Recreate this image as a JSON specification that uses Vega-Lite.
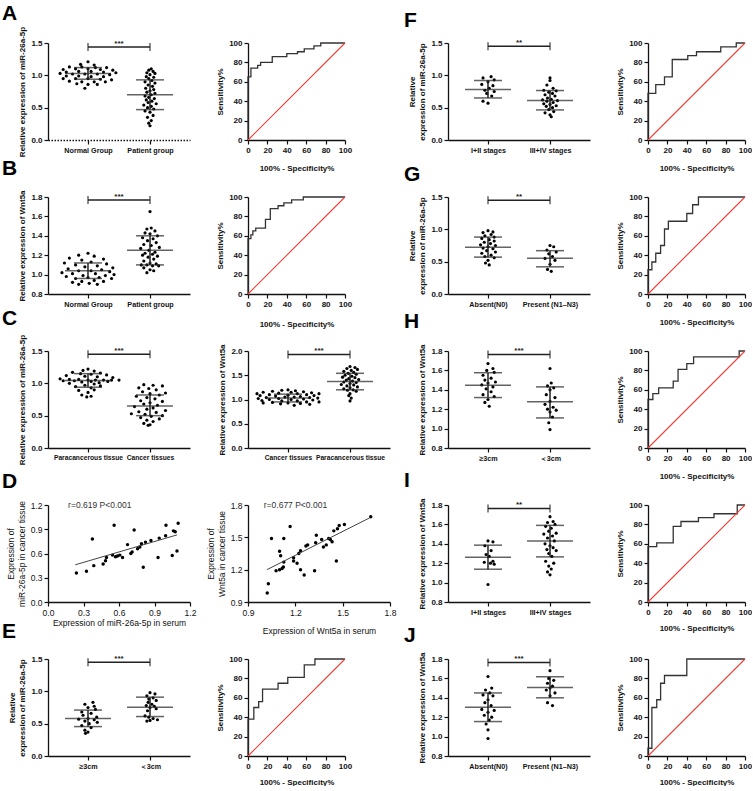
{
"$schema":"https://vega.github.io/schema/vega-lite/v6.json",
"background":"white",
"padding":{"left":2,"top":3,"right":0,"bottom":0},
"columns":4,"bounds":"flush","spacing":{"row":57,"column":58},
"datasets":{
"pts":[
{"p":"A","x":0,"y":1.21},{"p":"A","x":-0.12,"y":1.17},{"p":"A","x":0.1,"y":1.16},{"p":"A","x":-0.3,"y":1.13},{"p":"A","x":-0.1,"y":1.13},{"p":"A","x":0.12,"y":1.12},{"p":"A","x":0.3,"y":1.12},{"p":"A","x":-0.4,"y":1.09},{"p":"A","x":-0.2,"y":1.1},{"p":"A","x":0,"y":1.1},{"p":"A","x":0.2,"y":1.09},{"p":"A","x":0.4,"y":1.08},{"p":"A","x":-0.35,"y":1.05},{"p":"A","x":-0.15,"y":1.06},{"p":"A","x":0.05,"y":1.06},{"p":"A","x":0.25,"y":1.05},{"p":"A","x":0.45,"y":1.04},{"p":"A","x":-0.45,"y":1.03},{"p":"A","x":-0.25,"y":1.02},{"p":"A","x":-0.05,"y":1.02},{"p":"A","x":0.15,"y":1.02},{"p":"A","x":0.35,"y":1.01},{"p":"A","x":-0.35,"y":0.99},{"p":"A","x":-0.15,"y":0.99},{"p":"A","x":0.05,"y":0.98},{"p":"A","x":0.25,"y":0.98},{"p":"A","x":-0.4,"y":0.95},{"p":"A","x":-0.2,"y":0.95},{"p":"A","x":0,"y":0.95},{"p":"A","x":0.2,"y":0.94},{"p":"A","x":0.38,"y":0.93},{"p":"A","x":-0.3,"y":0.91},{"p":"A","x":-0.1,"y":0.9},{"p":"A","x":0.1,"y":0.9},{"p":"A","x":0.28,"y":0.9},{"p":"A","x":-0.18,"y":0.87},{"p":"A","x":0,"y":0.86},{"p":"A","x":0.15,"y":0.86},{"p":"A","x":-0.05,"y":0.8},
{"p":"A","x":1.02,"y":1.1},{"p":"A","x":0.98,"y":1.08},{"p":"A","x":1.05,"y":1.06},{"p":"A","x":0.95,"y":1.04},{"p":"A","x":1.08,"y":1.03},{"p":"A","x":1.0,"y":1.01},{"p":"A","x":0.94,"y":0.98},{"p":"A","x":1.06,"y":0.97},{"p":"A","x":0.98,"y":0.95},{"p":"A","x":1.03,"y":0.92},{"p":"A","x":0.92,"y":0.9},{"p":"A","x":1.08,"y":0.88},{"p":"A","x":0.97,"y":0.85},{"p":"A","x":1.04,"y":0.83},{"p":"A","x":0.93,"y":0.8},{"p":"A","x":1.06,"y":0.78},{"p":"A","x":1.0,"y":0.76},{"p":"A","x":0.95,"y":0.74},{"p":"A","x":1.08,"y":0.72},{"p":"A","x":1.02,"y":0.7},{"p":"A","x":0.92,"y":0.68},{"p":"A","x":0.98,"y":0.66},{"p":"A","x":1.07,"y":0.64},{"p":"A","x":0.94,"y":0.62},{"p":"A","x":1.03,"y":0.6},{"p":"A","x":0.97,"y":0.58},{"p":"A","x":1.1,"y":0.56},{"p":"A","x":0.9,"y":0.54},{"p":"A","x":1.02,"y":0.52},{"p":"A","x":0.96,"y":0.5},{"p":"A","x":1.06,"y":0.48},{"p":"A","x":0.92,"y":0.45},{"p":"A","x":1.0,"y":0.43},{"p":"A","x":1.05,"y":0.38},{"p":"A","x":0.96,"y":0.35},{"p":"A","x":1.02,"y":0.3},{"p":"A","x":0.98,"y":0.26},{"p":"A","x":1.0,"y":0.22},
{"p":"B","x":0,"y":1.22},{"p":"B","x":-0.15,"y":1.2},{"p":"B","x":0.1,"y":1.19},{"p":"B","x":-0.3,"y":1.17},{"p":"B","x":0.25,"y":1.16},{"p":"B","x":-0.1,"y":1.15},{"p":"B","x":0.05,"y":1.13},{"p":"B","x":-0.38,"y":1.12},{"p":"B","x":0.3,"y":1.11},{"p":"B","x":-0.2,"y":1.1},{"p":"B","x":0.15,"y":1.09},{"p":"B","x":-0.05,"y":1.08},{"p":"B","x":0.4,"y":1.07},{"p":"B","x":-0.32,"y":1.06},{"p":"B","x":0.22,"y":1.05},{"p":"B","x":-0.15,"y":1.04},{"p":"B","x":0.05,"y":1.04},{"p":"B","x":0.35,"y":1.03},{"p":"B","x":-0.42,"y":1.02},{"p":"B","x":-0.25,"y":1.01},{"p":"B","x":0.12,"y":1.01},{"p":"B","x":0.42,"y":1.0},{"p":"B","x":-0.08,"y":0.99},{"p":"B","x":0.28,"y":0.99},{"p":"B","x":-0.35,"y":0.98},{"p":"B","x":0,"y":0.97},{"p":"B","x":0.18,"y":0.97},{"p":"B","x":-0.2,"y":0.96},{"p":"B","x":0.38,"y":0.96},{"p":"B","x":0.1,"y":0.94},{"p":"B","x":-0.1,"y":0.93},{"p":"B","x":-0.25,"y":0.92},{"p":"B","x":0.25,"y":0.93},{"p":"B","x":0.02,"y":0.91},{"p":"B","x":-0.15,"y":0.9},{"p":"B","x":0.15,"y":0.9},
{"p":"B","x":1.0,"y":1.65},{"p":"B","x":1.02,"y":1.48},{"p":"B","x":0.95,"y":1.47},{"p":"B","x":1.08,"y":1.45},{"p":"B","x":0.92,"y":1.43},{"p":"B","x":1.0,"y":1.42},{"p":"B","x":1.12,"y":1.4},{"p":"B","x":0.88,"y":1.38},{"p":"B","x":1.05,"y":1.37},{"p":"B","x":0.96,"y":1.35},{"p":"B","x":1.1,"y":1.33},{"p":"B","x":0.9,"y":1.31},{"p":"B","x":1.02,"y":1.3},{"p":"B","x":1.15,"y":1.28},{"p":"B","x":0.85,"y":1.27},{"p":"B","x":0.98,"y":1.25},{"p":"B","x":1.08,"y":1.23},{"p":"B","x":0.92,"y":1.22},{"p":"B","x":1.04,"y":1.21},{"p":"B","x":0.88,"y":1.2},{"p":"B","x":1.12,"y":1.19},{"p":"B","x":0.97,"y":1.18},{"p":"B","x":1.06,"y":1.16},{"p":"B","x":0.9,"y":1.14},{"p":"B","x":1.0,"y":1.12},{"p":"B","x":1.1,"y":1.11},{"p":"B","x":0.86,"y":1.1},{"p":"B","x":0.95,"y":1.1},{"p":"B","x":1.04,"y":1.09},{"p":"B","x":1.14,"y":1.09},{"p":"B","x":0.9,"y":1.07},{"p":"B","x":1.0,"y":1.05},{"p":"B","x":1.06,"y":1.04},{"p":"B","x":0.95,"y":1.02},
{"p":"C1","x":0,"y":1.22},{"p":"C1","x":-0.08,"y":1.2},{"p":"C1","x":0.1,"y":1.19},{"p":"C1","x":-0.25,"y":1.17},{"p":"C1","x":0.2,"y":1.16},{"p":"C1","x":-0.12,"y":1.15},{"p":"C1","x":0.05,"y":1.14},{"p":"C1","x":0.3,"y":1.13},{"p":"C1","x":-0.35,"y":1.12},{"p":"C1","x":-0.05,"y":1.11},{"p":"C1","x":0.15,"y":1.1},{"p":"C1","x":0.4,"y":1.09},{"p":"C1","x":-0.45,"y":1.07},{"p":"C1","x":-0.3,"y":1.06},{"p":"C1","x":-0.15,"y":1.06},{"p":"C1","x":0,"y":1.05},{"p":"C1","x":0.12,"y":1.05},{"p":"C1","x":0.25,"y":1.05},{"p":"C1","x":0.38,"y":1.05},{"p":"C1","x":0.5,"y":1.05},{"p":"C1","x":-0.4,"y":1.04},{"p":"C1","x":-0.22,"y":1.04},{"p":"C1","x":0.05,"y":1.03},{"p":"C1","x":0.32,"y":1.03},{"p":"C1","x":-0.1,"y":1.02},{"p":"C1","x":0.18,"y":1.01},{"p":"C1","x":-0.3,"y":1.0},{"p":"C1","x":0.1,"y":0.99},{"p":"C1","x":-0.05,"y":0.97},{"p":"C1","x":0.2,"y":0.96},{"p":"C1","x":-0.2,"y":0.95},{"p":"C1","x":0.05,"y":0.93},{"p":"C1","x":0.1,"y":0.9},{"p":"C1","x":-0.15,"y":0.89},{"p":"C1","x":0,"y":0.86},{"p":"C1","x":-0.1,"y":0.82},{"p":"C1","x":0.05,"y":0.8},{"p":"C1","x":-0.02,"y":0.79},
{"p":"C1","x":0.9,"y":0.98},{"p":"C1","x":1.05,"y":0.97},{"p":"C1","x":1.2,"y":0.96},{"p":"C1","x":0.82,"y":0.93},{"p":"C1","x":0.98,"y":0.92},{"p":"C1","x":1.1,"y":0.9},{"p":"C1","x":0.88,"y":0.87},{"p":"C1","x":1.25,"y":0.85},{"p":"C1","x":1.0,"y":0.84},{"p":"C1","x":1.15,"y":0.82},{"p":"C1","x":0.78,"y":0.8},{"p":"C1","x":0.95,"y":0.78},{"p":"C1","x":1.08,"y":0.76},{"p":"C1","x":0.85,"y":0.73},{"p":"C1","x":1.2,"y":0.72},{"p":"C1","x":1.0,"y":0.7},{"p":"C1","x":0.9,"y":0.68},{"p":"C1","x":1.12,"y":0.66},{"p":"C1","x":0.75,"y":0.64},{"p":"C1","x":1.05,"y":0.62},{"p":"C1","x":0.95,"y":0.6},{"p":"C1","x":1.25,"y":0.58},{"p":"C1","x":0.82,"y":0.56},{"p":"C1","x":1.1,"y":0.55},{"p":"C1","x":0.7,"y":0.53},{"p":"C1","x":0.92,"y":0.52},{"p":"C1","x":1.2,"y":0.5},{"p":"C1","x":1.02,"y":0.49},{"p":"C1","x":0.85,"y":0.47},{"p":"C1","x":1.15,"y":0.45},{"p":"C1","x":0.95,"y":0.43},{"p":"C1","x":1.05,"y":0.41},{"p":"C1","x":0.9,"y":0.38},{"p":"C1","x":1.0,"y":0.36},{"p":"C1","x":0.97,"y":0.35},
{"p":"C2","x":0,"y":1.2},{"p":"C2","x":-0.1,"y":1.19},{"p":"C2","x":0.12,"y":1.18},{"p":"C2","x":-0.25,"y":1.17},{"p":"C2","x":0.25,"y":1.16},{"p":"C2","x":-0.4,"y":1.15},{"p":"C2","x":0.05,"y":1.15},{"p":"C2","x":0.38,"y":1.14},{"p":"C2","x":-0.15,"y":1.13},{"p":"C2","x":0.15,"y":1.12},{"p":"C2","x":-0.5,"y":1.12},{"p":"C2","x":0.5,"y":1.12},{"p":"C2","x":-0.3,"y":1.1},{"p":"C2","x":0.3,"y":1.1},{"p":"C2","x":0,"y":1.09},{"p":"C2","x":-0.45,"y":1.08},{"p":"C2","x":0.42,"y":1.08},{"p":"C2","x":-0.2,"y":1.07},{"p":"C2","x":0.2,"y":1.06},{"p":"C2","x":-0.05,"y":1.05},{"p":"C2","x":0.1,"y":1.05},{"p":"C2","x":-0.35,"y":1.04},{"p":"C2","x":0.35,"y":1.04},{"p":"C2","x":0.48,"y":1.03},{"p":"C2","x":-0.48,"y":1.02},{"p":"C2","x":-0.15,"y":1.02},{"p":"C2","x":0.25,"y":1.01},{"p":"C2","x":-0.3,"y":1.0},{"p":"C2","x":0.05,"y":1.0},{"p":"C2","x":0.4,"y":0.99},{"p":"C2","x":-0.42,"y":0.98},{"p":"C2","x":-0.1,"y":0.97},{"p":"C2","x":0.15,"y":0.97},{"p":"C2","x":0.3,"y":0.95},{"p":"C2","x":-0.25,"y":0.94},{"p":"C2","x":0,"y":0.93},{"p":"C2","x":0.5,"y":0.95},{"p":"C2","x":-0.4,"y":0.93},{"p":"C2","x":0.2,"y":0.92},{"p":"C2","x":-0.12,"y":0.91},{"p":"C2","x":0.35,"y":0.9},{"p":"C2","x":0.1,"y":0.88},
{"p":"C2","x":1.0,"y":1.68},{"p":"C2","x":1.08,"y":1.66},{"p":"C2","x":0.95,"y":1.64},{"p":"C2","x":1.12,"y":1.62},{"p":"C2","x":1.02,"y":1.6},{"p":"C2","x":0.9,"y":1.58},{"p":"C2","x":1.06,"y":1.56},{"p":"C2","x":0.97,"y":1.54},{"p":"C2","x":1.1,"y":1.52},{"p":"C2","x":0.92,"y":1.5},{"p":"C2","x":1.03,"y":1.48},{"p":"C2","x":0.88,"y":1.46},{"p":"C2","x":1.08,"y":1.45},{"p":"C2","x":0.98,"y":1.43},{"p":"C2","x":1.14,"y":1.41},{"p":"C2","x":0.94,"y":1.4},{"p":"C2","x":1.04,"y":1.38},{"p":"C2","x":0.9,"y":1.36},{"p":"C2","x":1.1,"y":1.35},{"p":"C2","x":1.0,"y":1.33},{"p":"C2","x":0.86,"y":1.31},{"p":"C2","x":1.06,"y":1.3},{"p":"C2","x":0.95,"y":1.28},{"p":"C2","x":1.12,"y":1.26},{"p":"C2","x":1.0,"y":1.24},{"p":"C2","x":0.9,"y":1.22},{"p":"C2","x":1.05,"y":1.2},{"p":"C2","x":0.96,"y":1.19},{"p":"C2","x":1.1,"y":1.17},{"p":"C2","x":1.0,"y":1.12},{"p":"C2","x":0.98,"y":1.08},{"p":"C2","x":1.02,"y":1.03},{"p":"C2","x":1.0,"y":0.97},
{"p":"E","x":0.08,"y":0.83},{"p":"E","x":-0.05,"y":0.8},{"p":"E","x":0.1,"y":0.77},{"p":"E","x":0,"y":0.75},{"p":"E","x":0.12,"y":0.72},{"p":"E","x":-0.1,"y":0.68},{"p":"E","x":0.05,"y":0.66},{"p":"E","x":-0.08,"y":0.63},{"p":"E","x":0.14,"y":0.6},{"p":"E","x":0,"y":0.58},{"p":"E","x":-0.15,"y":0.57},{"p":"E","x":0.1,"y":0.56},{"p":"E","x":-0.05,"y":0.54},{"p":"E","x":0.15,"y":0.52},{"p":"E","x":0.02,"y":0.5},{"p":"E","x":-0.1,"y":0.47},{"p":"E","x":0.05,"y":0.44},{"p":"E","x":-0.05,"y":0.4},{"p":"E","x":0,"y":0.37},{"p":"E","x":-0.04,"y":0.35},
{"p":"E","x":1.0,"y":0.98},{"p":"E","x":1.08,"y":0.96},{"p":"E","x":0.95,"y":0.93},{"p":"E","x":1.05,"y":0.9},{"p":"E","x":0.98,"y":0.88},{"p":"E","x":1.1,"y":0.86},{"p":"E","x":0.97,"y":0.83},{"p":"E","x":1.03,"y":0.8},{"p":"E","x":0.94,"y":0.78},{"p":"E","x":1.07,"y":0.77},{"p":"E","x":1.0,"y":0.75},{"p":"E","x":1.1,"y":0.73},{"p":"E","x":0.96,"y":0.7},{"p":"E","x":0.92,"y":0.62},{"p":"E","x":0.98,"y":0.6},{"p":"E","x":1.05,"y":0.58},{"p":"E","x":1.12,"y":0.56},{"p":"E","x":1.0,"y":0.55},{"p":"E","x":0.95,"y":0.54},
{"p":"F","x":0.05,"y":0.98},{"p":"F","x":-0.08,"y":0.96},{"p":"F","x":0.1,"y":0.93},{"p":"F","x":0,"y":0.9},{"p":"F","x":-0.1,"y":0.86},{"p":"F","x":0.08,"y":0.84},{"p":"F","x":0.02,"y":0.8},{"p":"F","x":-0.05,"y":0.77},{"p":"F","x":0.1,"y":0.75},{"p":"F","x":-0.02,"y":0.72},{"p":"F","x":0.06,"y":0.68},{"p":"F","x":-0.08,"y":0.6},{"p":"F","x":0,"y":0.57},
{"p":"F","x":1.0,"y":0.96},{"p":"F","x":1.0,"y":0.92},{"p":"F","x":0.95,"y":0.85},{"p":"F","x":1.05,"y":0.8},{"p":"F","x":0.9,"y":0.77},{"p":"F","x":1.1,"y":0.76},{"p":"F","x":0.98,"y":0.74},{"p":"F","x":1.04,"y":0.72},{"p":"F","x":0.92,"y":0.7},{"p":"F","x":1.08,"y":0.68},{"p":"F","x":0.96,"y":0.65},{"p":"F","x":1.02,"y":0.63},{"p":"F","x":0.88,"y":0.62},{"p":"F","x":1.12,"y":0.61},{"p":"F","x":0.95,"y":0.6},{"p":"F","x":1.05,"y":0.58},{"p":"F","x":0.9,"y":0.56},{"p":"F","x":1.0,"y":0.55},{"p":"F","x":1.1,"y":0.53},{"p":"F","x":0.94,"y":0.52},{"p":"F","x":1.04,"y":0.5},{"p":"F","x":0.98,"y":0.47},{"p":"F","x":1.06,"y":0.44},{"p":"F","x":0.92,"y":0.42},{"p":"F","x":1.0,"y":0.39},{"p":"F","x":1.02,"y":0.36},
{"p":"G","x":0,"y":0.98},{"p":"G","x":0.08,"y":0.96},{"p":"G","x":-0.08,"y":0.95},{"p":"G","x":0.05,"y":0.92},{"p":"G","x":-0.05,"y":0.9},{"p":"G","x":0.1,"y":0.88},{"p":"G","x":-0.1,"y":0.86},{"p":"G","x":0.02,"y":0.84},{"p":"G","x":0.1,"y":0.82},{"p":"G","x":-0.06,"y":0.8},{"p":"G","x":0.04,"y":0.78},{"p":"G","x":-0.12,"y":0.76},{"p":"G","x":0.12,"y":0.75},{"p":"G","x":0,"y":0.73},{"p":"G","x":-0.08,"y":0.71},{"p":"G","x":0.08,"y":0.7},{"p":"G","x":-0.02,"y":0.67},{"p":"G","x":0.12,"y":0.65},{"p":"G","x":-0.1,"y":0.63},{"p":"G","x":0.05,"y":0.6},{"p":"G","x":-0.05,"y":0.58},{"p":"G","x":0.1,"y":0.56},{"p":"G","x":0,"y":0.52},{"p":"G","x":-0.04,"y":0.48},{"p":"G","x":0.02,"y":0.45},
{"p":"G","x":1.0,"y":0.75},{"p":"G","x":1.06,"y":0.73},{"p":"G","x":0.95,"y":0.68},{"p":"G","x":1.1,"y":0.65},{"p":"G","x":0.98,"y":0.62},{"p":"G","x":1.04,"y":0.58},{"p":"G","x":0.92,"y":0.55},{"p":"G","x":1.08,"y":0.52},{"p":"G","x":1.0,"y":0.46},{"p":"G","x":0.96,"y":0.38},{"p":"G","x":1.02,"y":0.35},
{"p":"H","x":0,"y":1.67},{"p":"H","x":0.08,"y":1.62},{"p":"H","x":-0.02,"y":1.6},{"p":"H","x":0.1,"y":1.58},{"p":"H","x":-0.08,"y":1.55},{"p":"H","x":0.05,"y":1.52},{"p":"H","x":-0.05,"y":1.5},{"p":"H","x":0.12,"y":1.48},{"p":"H","x":0,"y":1.47},{"p":"H","x":-0.1,"y":1.45},{"p":"H","x":0.08,"y":1.43},{"p":"H","x":-0.03,"y":1.41},{"p":"H","x":0.05,"y":1.38},{"p":"H","x":-0.08,"y":1.35},{"p":"H","x":0.1,"y":1.33},{"p":"H","x":0,"y":1.3},{"p":"H","x":-0.05,"y":1.27},{"p":"H","x":0.02,"y":1.23},
{"p":"H","x":1.0,"y":1.62},{"p":"H","x":1.02,"y":1.47},{"p":"H","x":0.96,"y":1.44},{"p":"H","x":1.06,"y":1.42},{"p":"H","x":1.0,"y":1.4},{"p":"H","x":0.94,"y":1.35},{"p":"H","x":1.08,"y":1.32},{"p":"H","x":1.0,"y":1.28},{"p":"H","x":0.92,"y":1.25},{"p":"H","x":1.05,"y":1.22},{"p":"H","x":0.96,"y":1.2},{"p":"H","x":1.1,"y":1.19},{"p":"H","x":1.0,"y":1.17},{"p":"H","x":1.04,"y":1.12},{"p":"H","x":0.98,"y":1.06},{"p":"H","x":1.0,"y":0.99},
{"p":"I","x":0,"y":1.43},{"p":"I","x":0.08,"y":1.42},{"p":"I","x":-0.05,"y":1.38},{"p":"I","x":0.05,"y":1.33},{"p":"I","x":-0.03,"y":1.29},{"p":"I","x":0.02,"y":1.27},{"p":"I","x":0.08,"y":1.22},{"p":"I","x":-0.06,"y":1.21},{"p":"I","x":0.04,"y":1.2},{"p":"I","x":0.1,"y":1.19},{"p":"I","x":0,"y":0.98},
{"p":"I","x":1.0,"y":1.68},{"p":"I","x":1.05,"y":1.63},{"p":"I","x":0.96,"y":1.62},{"p":"I","x":1.08,"y":1.6},{"p":"I","x":0.93,"y":1.58},{"p":"I","x":1.02,"y":1.56},{"p":"I","x":0.98,"y":1.53},{"p":"I","x":1.1,"y":1.51},{"p":"I","x":0.9,"y":1.5},{"p":"I","x":1.04,"y":1.48},{"p":"I","x":0.96,"y":1.46},{"p":"I","x":1.07,"y":1.43},{"p":"I","x":0.92,"y":1.4},{"p":"I","x":1.0,"y":1.38},{"p":"I","x":1.05,"y":1.36},{"p":"I","x":0.95,"y":1.34},{"p":"I","x":1.1,"y":1.33},{"p":"I","x":0.98,"y":1.3},{"p":"I","x":1.03,"y":1.27},{"p":"I","x":0.93,"y":1.22},{"p":"I","x":1.06,"y":1.2},{"p":"I","x":0.98,"y":1.17},{"p":"I","x":1.02,"y":1.14},{"p":"I","x":0.96,"y":1.11},{"p":"I","x":1.0,"y":1.08},
{"p":"J","x":0,"y":1.62},{"p":"J","x":0.06,"y":1.5},{"p":"J","x":-0.04,"y":1.48},{"p":"J","x":0.03,"y":1.45},{"p":"J","x":-0.08,"y":1.43},{"p":"J","x":0.08,"y":1.42},{"p":"J","x":0,"y":1.38},{"p":"J","x":-0.05,"y":1.35},{"p":"J","x":0.05,"y":1.32},{"p":"J","x":-0.1,"y":1.28},{"p":"J","x":0.1,"y":1.27},{"p":"J","x":0,"y":1.25},{"p":"J","x":-0.06,"y":1.22},{"p":"J","x":0.06,"y":1.2},{"p":"J","x":0.02,"y":1.17},{"p":"J","x":-0.03,"y":1.13},{"p":"J","x":0,"y":1.07},{"p":"J","x":0,"y":0.98},
{"p":"J","x":1.0,"y":1.68},{"p":"J","x":0.98,"y":1.6},{"p":"J","x":1.06,"y":1.58},{"p":"J","x":0.96,"y":1.55},{"p":"J","x":1.04,"y":1.52},{"p":"J","x":1.0,"y":1.5},{"p":"J","x":0.94,"y":1.48},{"p":"J","x":1.08,"y":1.45},{"p":"J","x":1.0,"y":1.42},{"p":"J","x":0.96,"y":1.35},{"p":"J","x":1.04,"y":1.32}
],
"sd":[
{"p":"A","x":0,"m":1.03,"lo":0.94,"hi":1.12},{"p":"A","x":1,"m":0.7,"lo":0.47,"hi":0.93},
{"p":"B","x":0,"m":1.04,"lo":0.96,"hi":1.12},{"p":"B","x":1,"m":1.25,"lo":1.1,"hi":1.4},
{"p":"C1","x":0,"m":1.045,"lo":0.94,"hi":1.15},{"p":"C1","x":1,"m":0.65,"lo":0.5,"hi":0.82},
{"p":"C2","x":0,"m":1.03,"lo":0.95,"hi":1.11},{"p":"C2","x":1,"m":1.37,"lo":1.2,"hi":1.54},
{"p":"E","x":0,"m":0.58,"lo":0.455,"hi":0.71},{"p":"E","x":1,"m":0.755,"lo":0.61,"hi":0.91},
{"p":"F","x":0,"m":0.78,"lo":0.65,"hi":0.92},{"p":"F","x":1,"m":0.61,"lo":0.465,"hi":0.765},
{"p":"G","x":0,"m":0.724,"lo":0.57,"hi":0.88},{"p":"G","x":1,"m":0.553,"lo":0.42,"hi":0.67},
{"p":"H","x":0,"m":1.448,"lo":1.32,"hi":1.576},{"p":"H","x":1,"m":1.276,"lo":1.11,"hi":1.43},
{"p":"I","x":0,"m":1.262,"lo":1.138,"hi":1.386},{"p":"I","x":1,"m":1.428,"lo":1.265,"hi":1.59},
{"p":"J","x":0,"m":1.303,"lo":1.155,"hi":1.45},{"p":"J","x":1,"m":1.507,"lo":1.4,"hi":1.617}
],
"sig":[
{"p":"A","x1":0,"x2":1,"xm":0.5,"y":1.44,"t":"***"},
{"p":"B","x1":0,"x2":1,"xm":0.5,"y":1.77,"t":"***"},
{"p":"C1","x1":0,"x2":1,"xm":0.5,"y":1.45,"t":"***"},
{"p":"C2","x1":0,"x2":1,"xm":0.5,"y":1.93,"t":"***"},
{"p":"E","x1":0,"x2":1,"xm":0.5,"y":1.45,"t":"***"},
{"p":"F","x1":0,"x2":1,"xm":0.5,"y":1.45,"t":"**"},
{"p":"G","x1":0,"x2":1,"xm":0.5,"y":1.45,"t":"**"},
{"p":"H","x1":0,"x2":1,"xm":0.5,"y":1.765,"t":"***"},
{"p":"I","x1":0,"x2":1,"xm":0.5,"y":1.765,"t":"**"},
{"p":"J","x1":0,"x2":1,"xm":0.5,"y":1.765,"t":"***"}
],
"roc":[
{"p":"A","x":0,"y":0},{"p":"A","x":0,"y":65},{"p":"A","x":3,"y":65},{"p":"A","x":3,"y":74},{"p":"A","x":10,"y":74},{"p":"A","x":10,"y":77},{"p":"A","x":13,"y":77},{"p":"A","x":13,"y":80},{"p":"A","x":25,"y":80},{"p":"A","x":25,"y":86},{"p":"A","x":40,"y":86},{"p":"A","x":40,"y":89},{"p":"A","x":51,"y":89},{"p":"A","x":51,"y":91},{"p":"A","x":58,"y":91},{"p":"A","x":58,"y":94},{"p":"A","x":68,"y":94},{"p":"A","x":68,"y":97},{"p":"A","x":75,"y":97},{"p":"A","x":75,"y":100},{"p":"A","x":100,"y":100},
{"p":"B","x":0,"y":0},{"p":"B","x":0,"y":57},{"p":"B","x":3,"y":57},{"p":"B","x":3,"y":61},{"p":"B","x":5,"y":61},{"p":"B","x":5,"y":65},{"p":"B","x":8,"y":65},{"p":"B","x":8,"y":68},{"p":"B","x":18,"y":68},{"p":"B","x":18,"y":77},{"p":"B","x":23,"y":77},{"p":"B","x":23,"y":88},{"p":"B","x":31,"y":88},{"p":"B","x":31,"y":91},{"p":"B","x":37,"y":91},{"p":"B","x":37,"y":94},{"p":"B","x":45,"y":94},{"p":"B","x":45,"y":97},{"p":"B","x":57,"y":97},{"p":"B","x":57,"y":100},{"p":"B","x":100,"y":100},
{"p":"E","x":0,"y":0},{"p":"E","x":0,"y":38},{"p":"E","x":6,"y":38},{"p":"E","x":6,"y":50},{"p":"E","x":11,"y":50},{"p":"E","x":11,"y":56},{"p":"E","x":15,"y":56},{"p":"E","x":15,"y":69},{"p":"E","x":31,"y":69},{"p":"E","x":31,"y":75},{"p":"E","x":41,"y":75},{"p":"E","x":41,"y":81},{"p":"E","x":58,"y":81},{"p":"E","x":58,"y":94},{"p":"E","x":69,"y":94},{"p":"E","x":69,"y":100},{"p":"E","x":100,"y":100},
{"p":"F","x":0,"y":0},{"p":"F","x":0,"y":48},{"p":"F","x":8,"y":48},{"p":"F","x":8,"y":57},{"p":"F","x":17,"y":57},{"p":"F","x":17,"y":65},{"p":"F","x":25,"y":65},{"p":"F","x":25,"y":83},{"p":"F","x":41,"y":83},{"p":"F","x":41,"y":87},{"p":"F","x":50,"y":87},{"p":"F","x":50,"y":91},{"p":"F","x":75,"y":91},{"p":"F","x":75,"y":96},{"p":"F","x":91,"y":96},{"p":"F","x":91,"y":100},{"p":"F","x":100,"y":100},
{"p":"G","x":0,"y":0},{"p":"G","x":0,"y":25},{"p":"G","x":4,"y":25},{"p":"G","x":4,"y":33},{"p":"G","x":8,"y":33},{"p":"G","x":8,"y":42},{"p":"G","x":13,"y":42},{"p":"G","x":13,"y":50},{"p":"G","x":17,"y":50},{"p":"G","x":17,"y":67},{"p":"G","x":21,"y":67},{"p":"G","x":21,"y":75},{"p":"G","x":40,"y":75},{"p":"G","x":40,"y":83},{"p":"G","x":46,"y":83},{"p":"G","x":46,"y":92},{"p":"G","x":52,"y":92},{"p":"G","x":52,"y":100},{"p":"G","x":100,"y":100},
{"p":"H","x":0,"y":0},{"p":"H","x":0,"y":50},{"p":"H","x":5,"y":50},{"p":"H","x":5,"y":56},{"p":"H","x":11,"y":56},{"p":"H","x":11,"y":62},{"p":"H","x":26,"y":62},{"p":"H","x":26,"y":69},{"p":"H","x":31,"y":69},{"p":"H","x":31,"y":81},{"p":"H","x":40,"y":81},{"p":"H","x":40,"y":87},{"p":"H","x":47,"y":87},{"p":"H","x":47,"y":94},{"p":"H","x":94,"y":94},{"p":"H","x":94,"y":100},{"p":"H","x":100,"y":100},
{"p":"I","x":0,"y":0},{"p":"I","x":0,"y":57},{"p":"I","x":9,"y":57},{"p":"I","x":9,"y":61},{"p":"I","x":26,"y":61},{"p":"I","x":26,"y":78},{"p":"I","x":34,"y":78},{"p":"I","x":34,"y":83},{"p":"I","x":52,"y":83},{"p":"I","x":52,"y":87},{"p":"I","x":68,"y":87},{"p":"I","x":68,"y":91},{"p":"I","x":92,"y":91},{"p":"I","x":92,"y":100},{"p":"I","x":100,"y":100},
{"p":"J","x":0,"y":0},{"p":"J","x":0,"y":8},{"p":"J","x":4,"y":8},{"p":"J","x":4,"y":50},{"p":"J","x":9,"y":50},{"p":"J","x":9,"y":58},{"p":"J","x":13,"y":58},{"p":"J","x":13,"y":75},{"p":"J","x":17,"y":75},{"p":"J","x":17,"y":83},{"p":"J","x":40,"y":83},{"p":"J","x":40,"y":100},{"p":"J","x":100,"y":100}
],
"ref45":[{"lo":0,"hi":100}],
"sc":[
{"p":"DL","x":0.24,"y":0.36},{"p":"DL","x":0.325,"y":0.38},{"p":"DL","x":0.375,"y":0.78},{"p":"DL","x":0.387,"y":0.45},{"p":"DL","x":0.466,"y":0.47},{"p":"DL","x":0.486,"y":0.51},{"p":"DL","x":0.494,"y":0.55},{"p":"DL","x":0.545,"y":0.58},{"p":"DL","x":0.559,"y":0.95},{"p":"DL","x":0.57,"y":0.56},{"p":"DL","x":0.587,"y":0.57},{"p":"DL","x":0.607,"y":0.58},{"p":"DL","x":0.63,"y":0.55},{"p":"DL","x":0.672,"y":0.71},{"p":"DL","x":0.7,"y":0.6},{"p":"DL","x":0.711,"y":0.62},{"p":"DL","x":0.728,"y":0.89},{"p":"DL","x":0.757,"y":0.66},{"p":"DL","x":0.776,"y":0.68},{"p":"DL","x":0.79,"y":0.72},{"p":"DL","x":0.805,"y":0.43},{"p":"DL","x":0.824,"y":0.74},{"p":"DL","x":0.87,"y":0.76},{"p":"DL","x":0.93,"y":0.55},{"p":"DL","x":0.94,"y":0.79},{"p":"DL","x":0.994,"y":0.82},{"p":"DL","x":0.997,"y":0.95},{"p":"DL","x":1.05,"y":0.575},{"p":"DL","x":1.06,"y":0.88},{"p":"DL","x":1.075,"y":0.87},{"p":"DL","x":1.09,"y":0.63},{"p":"DL","x":1.1,"y":0.975},
{"p":"DR","x":1.022,"y":0.984},{"p":"DR","x":1.029,"y":1.07},{"p":"DR","x":1.049,"y":1.49},{"p":"DR","x":1.078,"y":1.19},{"p":"DR","x":1.1,"y":1.37},{"p":"DR","x":1.107,"y":1.33},{"p":"DR","x":1.1,"y":1.2},{"p":"DR","x":1.116,"y":1.21},{"p":"DR","x":1.127,"y":1.49},{"p":"DR","x":1.124,"y":1.225},{"p":"DR","x":1.127,"y":1.27},{"p":"DR","x":1.167,"y":1.6},{"p":"DR","x":1.189,"y":1.31},{"p":"DR","x":1.189,"y":1.28},{"p":"DR","x":1.211,"y":1.26},{"p":"DR","x":1.222,"y":1.35},{"p":"DR","x":1.233,"y":1.375},{"p":"DR","x":1.233,"y":1.2},{"p":"DR","x":1.256,"y":1.15},{"p":"DR","x":1.267,"y":1.42},{"p":"DR","x":1.278,"y":1.43},{"p":"DR","x":1.322,"y":1.19},{"p":"DR","x":1.329,"y":1.45},{"p":"DR","x":1.333,"y":1.52},{"p":"DR","x":1.367,"y":1.48},{"p":"DR","x":1.378,"y":1.41},{"p":"DR","x":1.396,"y":1.43},{"p":"DR","x":1.411,"y":1.49},{"p":"DR","x":1.422,"y":1.48},{"p":"DR","x":1.433,"y":1.46},{"p":"DR","x":1.444,"y":1.56},{"p":"DR","x":1.46,"y":1.28},{"p":"DR","x":1.467,"y":1.58},{"p":"DR","x":1.478,"y":1.61},{"p":"DR","x":1.511,"y":1.62},{"p":"DR","x":1.678,"y":1.69}
],
"fit":[{"p":"DL","x1":0.23,"y1":0.46,"x2":1.09,"y2":0.83},{"p":"DR","x1":1.02,"y1":1.2,"x2":1.67,"y2":1.68}],
"ann":[{"p":"DL","x":0.17,"y":1.2,"t":"r=0.619 P<0.001"},{"p":"DR","x":1.0,"y":1.8,"t":"r=0.677 P<0.001"}]
},
"concat":[
{"width":142,"height":97,"title":{"text":"A","dx":-46,"dy":2},
"layer":[
{"data":{"name":"pts"},"transform":[{"filter":"datum.p=='A'"}],"mark":{"type":"circle","size":10,"color":"#000","opacity":1},
"encoding":{"x":{"field":"x","type":"quantitative","title":null,"scale":{"domain":[-0.645,1.645]},"axis":{"values":[0,1],"tickCount":20,"labelFontSize":7.2,"labelExpr":"datum.value==0?'Normal Group':'Patient group'","domainDash":[1.5,1.5]}},
"y":{"field":"y","type":"quantitative","title":"Relative expression of miR-26a-5p","scale":{"domain":[0,1.5]},"axis":{"values":[0,0.5,1,1.5],"tickCount":20,"format":".1f"}}}},
{"data":{"name":"sd"},"transform":[{"filter":"datum.p=='A'"}],"mark":{"type":"errorbar","ticks":true,"size":28,"thickness":1.5,"color":"#222"},
"encoding":{"x":{"field":"x","type":"quantitative","title":null,"scale":{"domain":[-0.645,1.645]}},"y":{"field":"lo","type":"quantitative","title":"Relative expression of miR-26a-5p","scale":{"domain":[0,1.5]}},"y2":{"field":"hi"}}},
{"data":{"name":"sd"},"transform":[{"filter":"datum.p=='A'"}],"mark":{"type":"tick","orient":"horizontal","size":46,"thickness":1.5,"color":"#222"},
"encoding":{"x":{"field":"x","type":"quantitative","title":null,"scale":{"domain":[-0.645,1.645]}},"y":{"field":"m","type":"quantitative","title":"Relative expression of miR-26a-5p","scale":{"domain":[0,1.5]}}}},
{"data":{"name":"sig"},"transform":[{"filter":"datum.p=='A'"}],"mark":{"type":"errorbar","ticks":true,"size":8,"thickness":1.5,"color":"#222"},
"encoding":{"x":{"field":"x1","type":"quantitative","title":null,"scale":{"domain":[-0.645,1.645]}},"x2":{"field":"x2"},"y":{"field":"y","type":"quantitative","title":"Relative expression of miR-26a-5p","scale":{"domain":[0,1.5]}}}},
{"data":{"name":"sig"},"transform":[{"filter":"datum.p=='A'"}],"mark":{"type":"text","fontSize":8,"fontWeight":"bold","baseline":"alphabetic","dy":-1,"color":"#222"},
"encoding":{"x":{"field":"xm","type":"quantitative","title":null,"scale":{"domain":[-0.645,1.645]}},"y":{"field":"y","type":"quantitative","title":"Relative expression of miR-26a-5p","scale":{"domain":[0,1.5]}},"text":{"field":"t"}}}
]},
{"width":97,"height":97,
"layer":[
{"data":{"name":"roc"},"transform":[{"filter":"datum.p=='A'"}],"mark":{"type":"line","color":"#333","strokeWidth":1.3},
"encoding":{"x":{"field":"x","type":"quantitative","title":"100% - Specificity%","scale":{"domain":[0,100]},"axis":{"values":[0,20,40,60,80,100],"tickCount":20,"titlePadding":10}},"y":{"field":"y","type":"quantitative","title":"Sensitivity%","scale":{"domain":[0,100]},"axis":{"values":[0,20,40,60,80,100],"tickCount":20}},"order":[{"field":"x","type":"quantitative"},{"field":"y","type":"quantitative"}]}},
{"data":{"name":"ref45"},"mark":{"type":"rule","stroke":"#e8403a","strokeWidth":1.1,"opacity":1},
"encoding":{"x":{"field":"lo","type":"quantitative","title":"100% - Specificity%","scale":{"domain":[0,100]}},"y":{"field":"lo","type":"quantitative","title":"Sensitivity%","scale":{"domain":[0,100]}},"x2":{"field":"hi"},"y2":{"field":"hi"}}}
]},
{"width":142,"height":97,"title":{"text":"F","dx":-44,"dy":-4},
"layer":[
{"data":{"name":"pts"},"transform":[{"filter":"datum.p=='F'"}],"mark":{"type":"circle","size":10,"color":"#000","opacity":1},
"encoding":{"x":{"field":"x","type":"quantitative","title":null,"scale":{"domain":[-0.645,1.645]},"axis":{"values":[0,1],"tickCount":20,"labelFontSize":7.2,"labelExpr":"datum.value==0?'I+II stages':'III+IV stages'"}},
"y":{"field":"y","type":"quantitative","title":["Relative","expression of miR-26a-5p"],"scale":{"domain":[0,1.5]},"axis":{"values":[0,0.5,1,1.5],"tickCount":20,"format":".1f"}}}},
{"data":{"name":"sd"},"transform":[{"filter":"datum.p=='F'"}],"mark":{"type":"errorbar","ticks":true,"size":28,"thickness":1.5,"color":"#222"},
"encoding":{"x":{"field":"x","type":"quantitative","title":null,"scale":{"domain":[-0.645,1.645]}},"y":{"field":"lo","type":"quantitative","title":["Relative","expression of miR-26a-5p"],"scale":{"domain":[0,1.5]}},"y2":{"field":"hi"}}},
{"data":{"name":"sd"},"transform":[{"filter":"datum.p=='F'"}],"mark":{"type":"tick","orient":"horizontal","size":46,"thickness":1.5,"color":"#222"},
"encoding":{"x":{"field":"x","type":"quantitative","title":null,"scale":{"domain":[-0.645,1.645]}},"y":{"field":"m","type":"quantitative","title":["Relative","expression of miR-26a-5p"],"scale":{"domain":[0,1.5]}}}},
{"data":{"name":"sig"},"transform":[{"filter":"datum.p=='F'"}],"mark":{"type":"errorbar","ticks":true,"size":8,"thickness":1.5,"color":"#222"},
"encoding":{"x":{"field":"x1","type":"quantitative","title":null,"scale":{"domain":[-0.645,1.645]}},"x2":{"field":"x2"},"y":{"field":"y","type":"quantitative","title":["Relative","expression of miR-26a-5p"],"scale":{"domain":[0,1.5]}}}},
{"data":{"name":"sig"},"transform":[{"filter":"datum.p=='F'"}],"mark":{"type":"text","fontSize":8,"fontWeight":"bold","baseline":"alphabetic","dy":-1,"color":"#222"},
"encoding":{"x":{"field":"xm","type":"quantitative","title":null,"scale":{"domain":[-0.645,1.645]}},"y":{"field":"y","type":"quantitative","title":["Relative","expression of miR-26a-5p"],"scale":{"domain":[0,1.5]}},"text":{"field":"t"}}}
]},
{"width":97,"height":97,
"layer":[
{"data":{"name":"roc"},"transform":[{"filter":"datum.p=='F'"}],"mark":{"type":"line","color":"#333","strokeWidth":1.3},
"encoding":{"x":{"field":"x","type":"quantitative","title":"100% - Specificity%","scale":{"domain":[0,100]},"axis":{"values":[0,20,40,60,80,100],"tickCount":20,"titlePadding":10}},"y":{"field":"y","type":"quantitative","title":"Sensitivity%","scale":{"domain":[0,100]},"axis":{"values":[0,20,40,60,80,100],"tickCount":20}},"order":[{"field":"x","type":"quantitative"},{"field":"y","type":"quantitative"}]}},
{"data":{"name":"ref45"},"mark":{"type":"rule","stroke":"#e8403a","strokeWidth":1.1,"opacity":1},
"encoding":{"x":{"field":"lo","type":"quantitative","title":"100% - Specificity%","scale":{"domain":[0,100]}},"y":{"field":"lo","type":"quantitative","title":"Sensitivity%","scale":{"domain":[0,100]}},"x2":{"field":"hi"},"y2":{"field":"hi"}}}
]},
{"width":142,"height":97,"title":{"text":"B","dx":-46,"dy":-7},
"layer":[
{"data":{"name":"pts"},"transform":[{"filter":"datum.p=='B'"}],"mark":{"type":"circle","size":10,"color":"#000","opacity":1},
"encoding":{"x":{"field":"x","type":"quantitative","title":null,"scale":{"domain":[-0.645,1.645]},"axis":{"values":[0,1],"tickCount":20,"labelFontSize":7.2,"labelExpr":"datum.value==0?'Normal Group':'Patient group'"}},
"y":{"field":"y","type":"quantitative","title":"Relative expression of Wnt5a","scale":{"domain":[0.8,1.8]},"axis":{"values":[0.8,1,1.2,1.4,1.6,1.8],"tickCount":20,"format":".1f"}}}},
{"data":{"name":"sd"},"transform":[{"filter":"datum.p=='B'"}],"mark":{"type":"errorbar","ticks":true,"size":28,"thickness":1.5,"color":"#222"},
"encoding":{"x":{"field":"x","type":"quantitative","title":null,"scale":{"domain":[-0.645,1.645]}},"y":{"field":"lo","type":"quantitative","title":"Relative expression of Wnt5a","scale":{"domain":[0.8,1.8]}},"y2":{"field":"hi"}}},
{"data":{"name":"sd"},"transform":[{"filter":"datum.p=='B'"}],"mark":{"type":"tick","orient":"horizontal","size":46,"thickness":1.5,"color":"#222"},
"encoding":{"x":{"field":"x","type":"quantitative","title":null,"scale":{"domain":[-0.645,1.645]}},"y":{"field":"m","type":"quantitative","title":"Relative expression of Wnt5a","scale":{"domain":[0.8,1.8]}}}},
{"data":{"name":"sig"},"transform":[{"filter":"datum.p=='B'"}],"mark":{"type":"errorbar","ticks":true,"size":8,"thickness":1.5,"color":"#222"},
"encoding":{"x":{"field":"x1","type":"quantitative","title":null,"scale":{"domain":[-0.645,1.645]}},"x2":{"field":"x2"},"y":{"field":"y","type":"quantitative","title":"Relative expression of Wnt5a","scale":{"domain":[0.8,1.8]}}}},
{"data":{"name":"sig"},"transform":[{"filter":"datum.p=='B'"}],"mark":{"type":"text","fontSize":8,"fontWeight":"bold","baseline":"alphabetic","dy":-1,"color":"#222"},
"encoding":{"x":{"field":"xm","type":"quantitative","title":null,"scale":{"domain":[-0.645,1.645]}},"y":{"field":"y","type":"quantitative","title":"Relative expression of Wnt5a","scale":{"domain":[0.8,1.8]}},"text":{"field":"t"}}}
]},
{"width":97,"height":97,
"layer":[
{"data":{"name":"roc"},"transform":[{"filter":"datum.p=='B'"}],"mark":{"type":"line","color":"#333","strokeWidth":1.3},
"encoding":{"x":{"field":"x","type":"quantitative","title":"100% - Specificity%","scale":{"domain":[0,100]},"axis":{"values":[0,20,40,60,80,100],"tickCount":20,"titlePadding":12}},"y":{"field":"y","type":"quantitative","title":"Sensitivity%","scale":{"domain":[0,100]},"axis":{"values":[0,20,40,60,80,100],"tickCount":20}},"order":[{"field":"x","type":"quantitative"},{"field":"y","type":"quantitative"}]}},
{"data":{"name":"ref45"},"mark":{"type":"rule","stroke":"#e8403a","strokeWidth":1.1,"opacity":1},
"encoding":{"x":{"field":"lo","type":"quantitative","title":"100% - Specificity%","scale":{"domain":[0,100]}},"y":{"field":"lo","type":"quantitative","title":"Sensitivity%","scale":{"domain":[0,100]}},"x2":{"field":"hi"},"y2":{"field":"hi"}}}
]},
{"width":142,"height":97,"title":{"text":"G","dx":-44,"dy":-4},
"layer":[
{"data":{"name":"pts"},"transform":[{"filter":"datum.p=='G'"}],"mark":{"type":"circle","size":10,"color":"#000","opacity":1},
"encoding":{"x":{"field":"x","type":"quantitative","title":null,"scale":{"domain":[-0.645,1.645]},"axis":{"values":[0,1],"tickCount":20,"labelFontSize":7.2,"labelExpr":"datum.value==0?'Absent(N0)':'Present (N1–N3)'"}},
"y":{"field":"y","type":"quantitative","title":["Relative","expression of miR-26a-5p"],"scale":{"domain":[0,1.5]},"axis":{"values":[0,0.5,1,1.5],"tickCount":20,"format":".1f"}}}},
{"data":{"name":"sd"},"transform":[{"filter":"datum.p=='G'"}],"mark":{"type":"errorbar","ticks":true,"size":28,"thickness":1.5,"color":"#222"},
"encoding":{"x":{"field":"x","type":"quantitative","title":null,"scale":{"domain":[-0.645,1.645]}},"y":{"field":"lo","type":"quantitative","title":["Relative","expression of miR-26a-5p"],"scale":{"domain":[0,1.5]}},"y2":{"field":"hi"}}},
{"data":{"name":"sd"},"transform":[{"filter":"datum.p=='G'"}],"mark":{"type":"tick","orient":"horizontal","size":46,"thickness":1.5,"color":"#222"},
"encoding":{"x":{"field":"x","type":"quantitative","title":null,"scale":{"domain":[-0.645,1.645]}},"y":{"field":"m","type":"quantitative","title":["Relative","expression of miR-26a-5p"],"scale":{"domain":[0,1.5]}}}},
{"data":{"name":"sig"},"transform":[{"filter":"datum.p=='G'"}],"mark":{"type":"errorbar","ticks":true,"size":8,"thickness":1.5,"color":"#222"},
"encoding":{"x":{"field":"x1","type":"quantitative","title":null,"scale":{"domain":[-0.645,1.645]}},"x2":{"field":"x2"},"y":{"field":"y","type":"quantitative","title":["Relative","expression of miR-26a-5p"],"scale":{"domain":[0,1.5]}}}},
{"data":{"name":"sig"},"transform":[{"filter":"datum.p=='G'"}],"mark":{"type":"text","fontSize":8,"fontWeight":"bold","baseline":"alphabetic","dy":-1,"color":"#222"},
"encoding":{"x":{"field":"xm","type":"quantitative","title":null,"scale":{"domain":[-0.645,1.645]}},"y":{"field":"y","type":"quantitative","title":["Relative","expression of miR-26a-5p"],"scale":{"domain":[0,1.5]}},"text":{"field":"t"}}}
]},
{"width":97,"height":97,
"layer":[
{"data":{"name":"roc"},"transform":[{"filter":"datum.p=='G'"}],"mark":{"type":"line","color":"#333","strokeWidth":1.3},
"encoding":{"x":{"field":"x","type":"quantitative","title":"100% - Specificity%","scale":{"domain":[0,100]},"axis":{"values":[0,20,40,60,80,100],"tickCount":20,"titlePadding":10}},"y":{"field":"y","type":"quantitative","title":"Sensitivity%","scale":{"domain":[0,100]},"axis":{"values":[0,20,40,60,80,100],"tickCount":20}},"order":[{"field":"x","type":"quantitative"},{"field":"y","type":"quantitative"}]}},
{"data":{"name":"ref45"},"mark":{"type":"rule","stroke":"#e8403a","strokeWidth":1.1,"opacity":1},
"encoding":{"x":{"field":"lo","type":"quantitative","title":"100% - Specificity%","scale":{"domain":[0,100]}},"y":{"field":"lo","type":"quantitative","title":"Sensitivity%","scale":{"domain":[0,100]}},"x2":{"field":"hi"},"y2":{"field":"hi"}}}
]},
{"width":142,"height":97,"title":{"text":"C","dx":-46,"dy":-1},
"layer":[
{"data":{"name":"pts"},"transform":[{"filter":"datum.p=='C1'"}],"mark":{"type":"circle","size":10,"color":"#000","opacity":1},
"encoding":{"x":{"field":"x","type":"quantitative","title":null,"scale":{"domain":[-0.645,1.645]},"axis":{"values":[0,1],"tickCount":20,"labelFontSize":6.7,"labelExpr":"datum.value==0?'Paracancerous tissue':'Cancer tissues'"}},
"y":{"field":"y","type":"quantitative","title":"Relative expression of miR-26a-5p","scale":{"domain":[0,1.5]},"axis":{"values":[0,0.5,1,1.5],"tickCount":20,"format":".1f"}}}},
{"data":{"name":"sd"},"transform":[{"filter":"datum.p=='C1'"}],"mark":{"type":"errorbar","ticks":true,"size":28,"thickness":1.5,"color":"#222"},
"encoding":{"x":{"field":"x","type":"quantitative","title":null,"scale":{"domain":[-0.645,1.645]}},"y":{"field":"lo","type":"quantitative","title":"Relative expression of miR-26a-5p","scale":{"domain":[0,1.5]}},"y2":{"field":"hi"}}},
{"data":{"name":"sd"},"transform":[{"filter":"datum.p=='C1'"}],"mark":{"type":"tick","orient":"horizontal","size":46,"thickness":1.5,"color":"#222"},
"encoding":{"x":{"field":"x","type":"quantitative","title":null,"scale":{"domain":[-0.645,1.645]}},"y":{"field":"m","type":"quantitative","title":"Relative expression of miR-26a-5p","scale":{"domain":[0,1.5]}}}},
{"data":{"name":"sig"},"transform":[{"filter":"datum.p=='C1'"}],"mark":{"type":"errorbar","ticks":true,"size":8,"thickness":1.5,"color":"#222"},
"encoding":{"x":{"field":"x1","type":"quantitative","title":null,"scale":{"domain":[-0.645,1.645]}},"x2":{"field":"x2"},"y":{"field":"y","type":"quantitative","title":"Relative expression of miR-26a-5p","scale":{"domain":[0,1.5]}}}},
{"data":{"name":"sig"},"transform":[{"filter":"datum.p=='C1'"}],"mark":{"type":"text","fontSize":8,"fontWeight":"bold","baseline":"alphabetic","dy":-1,"color":"#222"},
"encoding":{"x":{"field":"xm","type":"quantitative","title":null,"scale":{"domain":[-0.645,1.645]}},"y":{"field":"y","type":"quantitative","title":"Relative expression of miR-26a-5p","scale":{"domain":[0,1.5]}},"text":{"field":"t"}}}
]},
{"width":142,"height":97,
"layer":[
{"data":{"name":"pts"},"transform":[{"filter":"datum.p=='C2'"}],"mark":{"type":"circle","size":10,"color":"#000","opacity":1},
"encoding":{"x":{"field":"x","type":"quantitative","title":null,"scale":{"domain":[-0.645,1.645]},"axis":{"values":[0,1],"tickCount":20,"labelFontSize":6.7,"labelExpr":"datum.value==0?'Cancer tissues':'Paracancerous tissue'"}},
"y":{"field":"y","type":"quantitative","title":"Relative expression of Wnt5a","scale":{"domain":[0,2]},"axis":{"values":[0,0.5,1,1.5,2],"tickCount":20,"format":".1f"}}}},
{"data":{"name":"sd"},"transform":[{"filter":"datum.p=='C2'"}],"mark":{"type":"errorbar","ticks":true,"size":28,"thickness":1.5,"color":"#222"},
"encoding":{"x":{"field":"x","type":"quantitative","title":null,"scale":{"domain":[-0.645,1.645]}},"y":{"field":"lo","type":"quantitative","title":"Relative expression of Wnt5a","scale":{"domain":[0,2]}},"y2":{"field":"hi"}}},
{"data":{"name":"sd"},"transform":[{"filter":"datum.p=='C2'"}],"mark":{"type":"tick","orient":"horizontal","size":46,"thickness":1.5,"color":"#222"},
"encoding":{"x":{"field":"x","type":"quantitative","title":null,"scale":{"domain":[-0.645,1.645]}},"y":{"field":"m","type":"quantitative","title":"Relative expression of Wnt5a","scale":{"domain":[0,2]}}}},
{"data":{"name":"sig"},"transform":[{"filter":"datum.p=='C2'"}],"mark":{"type":"errorbar","ticks":true,"size":8,"thickness":1.5,"color":"#222"},
"encoding":{"x":{"field":"x1","type":"quantitative","title":null,"scale":{"domain":[-0.645,1.645]}},"x2":{"field":"x2"},"y":{"field":"y","type":"quantitative","title":"Relative expression of Wnt5a","scale":{"domain":[0,2]}}}},
{"data":{"name":"sig"},"transform":[{"filter":"datum.p=='C2'"}],"mark":{"type":"text","fontSize":8,"fontWeight":"bold","baseline":"alphabetic","dy":-1,"color":"#222"},
"encoding":{"x":{"field":"xm","type":"quantitative","title":null,"scale":{"domain":[-0.645,1.645]}},"y":{"field":"y","type":"quantitative","title":"Relative expression of Wnt5a","scale":{"domain":[0,2]}},"text":{"field":"t"}}}
]},
{"width":142,"height":97,"title":{"text":"H","dx":-44,"dy":-8},
"layer":[
{"data":{"name":"pts"},"transform":[{"filter":"datum.p=='H'"}],"mark":{"type":"circle","size":10,"color":"#000","opacity":1},
"encoding":{"x":{"field":"x","type":"quantitative","title":null,"scale":{"domain":[-0.645,1.645]},"axis":{"values":[0,1],"tickCount":20,"labelFontSize":7.2,"labelExpr":"datum.value==0?'≥3cm':'＜3cm'"}},
"y":{"field":"y","type":"quantitative","title":"Relative expression of Wnt5a","scale":{"domain":[0.8,1.8]},"axis":{"values":[0.8,1,1.2,1.4,1.6,1.8],"tickCount":20,"format":".1f"}}}},
{"data":{"name":"sd"},"transform":[{"filter":"datum.p=='H'"}],"mark":{"type":"errorbar","ticks":true,"size":28,"thickness":1.5,"color":"#222"},
"encoding":{"x":{"field":"x","type":"quantitative","title":null,"scale":{"domain":[-0.645,1.645]}},"y":{"field":"lo","type":"quantitative","title":"Relative expression of Wnt5a","scale":{"domain":[0.8,1.8]}},"y2":{"field":"hi"}}},
{"data":{"name":"sd"},"transform":[{"filter":"datum.p=='H'"}],"mark":{"type":"tick","orient":"horizontal","size":46,"thickness":1.5,"color":"#222"},
"encoding":{"x":{"field":"x","type":"quantitative","title":null,"scale":{"domain":[-0.645,1.645]}},"y":{"field":"m","type":"quantitative","title":"Relative expression of Wnt5a","scale":{"domain":[0.8,1.8]}}}},
{"data":{"name":"sig"},"transform":[{"filter":"datum.p=='H'"}],"mark":{"type":"errorbar","ticks":true,"size":8,"thickness":1.5,"color":"#222"},
"encoding":{"x":{"field":"x1","type":"quantitative","title":null,"scale":{"domain":[-0.645,1.645]}},"x2":{"field":"x2"},"y":{"field":"y","type":"quantitative","title":"Relative expression of Wnt5a","scale":{"domain":[0.8,1.8]}}}},
{"data":{"name":"sig"},"transform":[{"filter":"datum.p=='H'"}],"mark":{"type":"text","fontSize":8,"fontWeight":"bold","baseline":"alphabetic","dy":-1,"color":"#222"},
"encoding":{"x":{"field":"xm","type":"quantitative","title":null,"scale":{"domain":[-0.645,1.645]}},"y":{"field":"y","type":"quantitative","title":"Relative expression of Wnt5a","scale":{"domain":[0.8,1.8]}},"text":{"field":"t"}}}
]},
{"width":97,"height":97,
"layer":[
{"data":{"name":"roc"},"transform":[{"filter":"datum.p=='H'"}],"mark":{"type":"line","color":"#333","strokeWidth":1.3},
"encoding":{"x":{"field":"x","type":"quantitative","title":"100% - Specificity%","scale":{"domain":[0,100]},"axis":{"values":[0,20,40,60,80,100],"tickCount":20,"titlePadding":10}},"y":{"field":"y","type":"quantitative","title":"Sensitivity%","scale":{"domain":[0,100]},"axis":{"values":[0,20,40,60,80,100],"tickCount":20}},"order":[{"field":"x","type":"quantitative"},{"field":"y","type":"quantitative"}]}},
{"data":{"name":"ref45"},"mark":{"type":"rule","stroke":"#e8403a","strokeWidth":1.1,"opacity":1},
"encoding":{"x":{"field":"lo","type":"quantitative","title":"100% - Specificity%","scale":{"domain":[0,100]}},"y":{"field":"lo","type":"quantitative","title":"Sensitivity%","scale":{"domain":[0,100]}},"x2":{"field":"hi"},"y2":{"field":"hi"}}}
]},
{"width":142,"height":97,"title":{"text":"D","dx":-46,"dy":-5},
"layer":[
{"data":{"name":"sc"},"transform":[{"filter":"datum.p=='DL'"}],"mark":{"type":"circle","size":12,"color":"#000","opacity":1},
"encoding":{"x":{"field":"x","type":"quantitative","title":"Expression  of miR-26a-5p  in serum","scale":{"domain":[0,1.2]},"axis":{"values":[0,0.3,0.6,0.9,1.2],"tickCount":20,"format":".1f","titleFontWeight":"normal","titleFontSize":8.5,"labelFontWeight":"normal","labelFontSize":8.5,"titlePadding":2}},
"y":{"field":"y","type":"quantitative","title":["Expression of","miR-26a-5p in cancer tissue"],"scale":{"domain":[0,1.2]},"axis":{"values":[0,0.3,0.6,0.9,1.2],"tickCount":20,"format":".1f","titleFontWeight":"normal","titleFontSize":8.5,"labelFontWeight":"normal","labelFontSize":8.5}}}},
{"data":{"name":"fit"},"transform":[{"filter":"datum.p=='DL'"}],"mark":{"type":"rule","color":"#444","strokeWidth":1},
"encoding":{"x":{"field":"x1","type":"quantitative","title":"Expression  of miR-26a-5p  in serum","scale":{"domain":[0,1.2]}},"y":{"field":"y1","type":"quantitative","title":["Expression of","miR-26a-5p in cancer tissue"],"scale":{"domain":[0,1.2]}},"x2":{"field":"x2"},"y2":{"field":"y2"}}},
{"data":{"name":"ann"},"transform":[{"filter":"datum.p=='DL'"}],"mark":{"type":"text","align":"left","fontSize":8.5,"color":"#333"},
"encoding":{"x":{"field":"x","type":"quantitative","title":"Expression  of miR-26a-5p  in serum","scale":{"domain":[0,1.2]}},"y":{"field":"y","type":"quantitative","title":["Expression of","miR-26a-5p in cancer tissue"],"scale":{"domain":[0,1.2]}},"text":{"field":"t"}}}
]},
{"width":142,"height":97,
"layer":[
{"data":{"name":"sc"},"transform":[{"filter":"datum.p=='DR'"}],"mark":{"type":"circle","size":12,"color":"#000","opacity":1},
"encoding":{"x":{"field":"x","type":"quantitative","title":"Expression  of Wnt5a  in serum","scale":{"domain":[0.9,1.8]},"axis":{"values":[0.9,1.2,1.5,1.8],"tickCount":20,"format":".1f","titleFontWeight":"normal","titleFontSize":8.5,"labelFontWeight":"normal","labelFontSize":8.5,"titlePadding":10}},
"y":{"field":"y","type":"quantitative","title":["Expression of","Wnt5a in cancer tissue"],"scale":{"domain":[0.9,1.8]},"axis":{"values":[0.9,1.2,1.5,1.8],"tickCount":20,"format":".1f","titleFontWeight":"normal","titleFontSize":8.5,"labelFontWeight":"normal","labelFontSize":8.5}}}},
{"data":{"name":"fit"},"transform":[{"filter":"datum.p=='DR'"}],"mark":{"type":"rule","color":"#444","strokeWidth":1},
"encoding":{"x":{"field":"x1","type":"quantitative","title":"Expression  of Wnt5a  in serum","scale":{"domain":[0.9,1.8]}},"y":{"field":"y1","type":"quantitative","title":["Expression of","Wnt5a in cancer tissue"],"scale":{"domain":[0.9,1.8]}},"x2":{"field":"x2"},"y2":{"field":"y2"}}},
{"data":{"name":"ann"},"transform":[{"filter":"datum.p=='DR'"}],"mark":{"type":"text","align":"left","fontSize":8.5,"color":"#333"},
"encoding":{"x":{"field":"x","type":"quantitative","title":"Expression  of Wnt5a  in serum","scale":{"domain":[0.9,1.8]}},"y":{"field":"y","type":"quantitative","title":["Expression of","Wnt5a in cancer tissue"],"scale":{"domain":[0.9,1.8]}},"text":{"field":"t"}}}
]},
{"width":142,"height":97,"title":{"text":"I","dx":-44,"dy":-3},
"layer":[
{"data":{"name":"pts"},"transform":[{"filter":"datum.p=='I'"}],"mark":{"type":"circle","size":10,"color":"#000","opacity":1},
"encoding":{"x":{"field":"x","type":"quantitative","title":null,"scale":{"domain":[-0.645,1.645]},"axis":{"values":[0,1],"tickCount":20,"labelFontSize":7.2,"labelExpr":"datum.value==0?'I+II stages':'III+IV stages'"}},
"y":{"field":"y","type":"quantitative","title":"Relative expression of Wnt5a","scale":{"domain":[0.8,1.8]},"axis":{"values":[0.8,1,1.2,1.4,1.6,1.8],"tickCount":20,"format":".1f"}}}},
{"data":{"name":"sd"},"transform":[{"filter":"datum.p=='I'"}],"mark":{"type":"errorbar","ticks":true,"size":28,"thickness":1.5,"color":"#222"},
"encoding":{"x":{"field":"x","type":"quantitative","title":null,"scale":{"domain":[-0.645,1.645]}},"y":{"field":"lo","type":"quantitative","title":"Relative expression of Wnt5a","scale":{"domain":[0.8,1.8]}},"y2":{"field":"hi"}}},
{"data":{"name":"sd"},"transform":[{"filter":"datum.p=='I'"}],"mark":{"type":"tick","orient":"horizontal","size":46,"thickness":1.5,"color":"#222"},
"encoding":{"x":{"field":"x","type":"quantitative","title":null,"scale":{"domain":[-0.645,1.645]}},"y":{"field":"m","type":"quantitative","title":"Relative expression of Wnt5a","scale":{"domain":[0.8,1.8]}}}},
{"data":{"name":"sig"},"transform":[{"filter":"datum.p=='I'"}],"mark":{"type":"errorbar","ticks":true,"size":8,"thickness":1.5,"color":"#222"},
"encoding":{"x":{"field":"x1","type":"quantitative","title":null,"scale":{"domain":[-0.645,1.645]}},"x2":{"field":"x2"},"y":{"field":"y","type":"quantitative","title":"Relative expression of Wnt5a","scale":{"domain":[0.8,1.8]}}}},
{"data":{"name":"sig"},"transform":[{"filter":"datum.p=='I'"}],"mark":{"type":"text","fontSize":8,"fontWeight":"bold","baseline":"alphabetic","dy":-1,"color":"#222"},
"encoding":{"x":{"field":"xm","type":"quantitative","title":null,"scale":{"domain":[-0.645,1.645]}},"y":{"field":"y","type":"quantitative","title":"Relative expression of Wnt5a","scale":{"domain":[0.8,1.8]}},"text":{"field":"t"}}}
]},
{"width":97,"height":97,
"layer":[
{"data":{"name":"roc"},"transform":[{"filter":"datum.p=='I'"}],"mark":{"type":"line","color":"#333","strokeWidth":1.3},
"encoding":{"x":{"field":"x","type":"quantitative","title":"100% - Specificity%","scale":{"domain":[0,100]},"axis":{"values":[0,20,40,60,80,100],"tickCount":20,"titlePadding":8}},"y":{"field":"y","type":"quantitative","title":"Sensitivity%","scale":{"domain":[0,100]},"axis":{"values":[0,20,40,60,80,100],"tickCount":20}},"order":[{"field":"x","type":"quantitative"},{"field":"y","type":"quantitative"}]}},
{"data":{"name":"ref45"},"mark":{"type":"rule","stroke":"#e8403a","strokeWidth":1.1,"opacity":1},
"encoding":{"x":{"field":"lo","type":"quantitative","title":"100% - Specificity%","scale":{"domain":[0,100]}},"y":{"field":"lo","type":"quantitative","title":"Sensitivity%","scale":{"domain":[0,100]}},"x2":{"field":"hi"},"y2":{"field":"hi"}}}
]},
{"width":142,"height":97,"title":{"text":"E","dx":-46,"dy":-9},
"layer":[
{"data":{"name":"pts"},"transform":[{"filter":"datum.p=='E'"}],"mark":{"type":"circle","size":10,"color":"#000","opacity":1},
"encoding":{"x":{"field":"x","type":"quantitative","title":null,"scale":{"domain":[-0.645,1.645]},"axis":{"values":[0,1],"tickCount":20,"labelFontSize":7.2,"labelExpr":"datum.value==0?'≥3cm':'＜3cm'"}},
"y":{"field":"y","type":"quantitative","title":["Relative","expression of miR-26a-5p"],"scale":{"domain":[0,1.5]},"axis":{"values":[0,0.5,1,1.5],"tickCount":20,"format":".1f"}}}},
{"data":{"name":"sd"},"transform":[{"filter":"datum.p=='E'"}],"mark":{"type":"errorbar","ticks":true,"size":28,"thickness":1.5,"color":"#222"},
"encoding":{"x":{"field":"x","type":"quantitative","title":null,"scale":{"domain":[-0.645,1.645]}},"y":{"field":"lo","type":"quantitative","title":["Relative","expression of miR-26a-5p"],"scale":{"domain":[0,1.5]}},"y2":{"field":"hi"}}},
{"data":{"name":"sd"},"transform":[{"filter":"datum.p=='E'"}],"mark":{"type":"tick","orient":"horizontal","size":46,"thickness":1.5,"color":"#222"},
"encoding":{"x":{"field":"x","type":"quantitative","title":null,"scale":{"domain":[-0.645,1.645]}},"y":{"field":"m","type":"quantitative","title":["Relative","expression of miR-26a-5p"],"scale":{"domain":[0,1.5]}}}},
{"data":{"name":"sig"},"transform":[{"filter":"datum.p=='E'"}],"mark":{"type":"errorbar","ticks":true,"size":8,"thickness":1.5,"color":"#222"},
"encoding":{"x":{"field":"x1","type":"quantitative","title":null,"scale":{"domain":[-0.645,1.645]}},"x2":{"field":"x2"},"y":{"field":"y","type":"quantitative","title":["Relative","expression of miR-26a-5p"],"scale":{"domain":[0,1.5]}}}},
{"data":{"name":"sig"},"transform":[{"filter":"datum.p=='E'"}],"mark":{"type":"text","fontSize":8,"fontWeight":"bold","baseline":"alphabetic","dy":-1,"color":"#222"},
"encoding":{"x":{"field":"xm","type":"quantitative","title":null,"scale":{"domain":[-0.645,1.645]}},"y":{"field":"y","type":"quantitative","title":["Relative","expression of miR-26a-5p"],"scale":{"domain":[0,1.5]}},"text":{"field":"t"}}}
]},
{"width":97,"height":97,
"layer":[
{"data":{"name":"roc"},"transform":[{"filter":"datum.p=='E'"}],"mark":{"type":"line","color":"#333","strokeWidth":1.3},
"encoding":{"x":{"field":"x","type":"quantitative","title":"100% - Specificity%","scale":{"domain":[0,100]},"axis":{"values":[0,20,40,60,80,100],"tickCount":20,"titlePadding":8}},"y":{"field":"y","type":"quantitative","title":"Sensitivity%","scale":{"domain":[0,100]},"axis":{"values":[0,20,40,60,80,100],"tickCount":20}},"order":[{"field":"x","type":"quantitative"},{"field":"y","type":"quantitative"}]}},
{"data":{"name":"ref45"},"mark":{"type":"rule","stroke":"#e8403a","strokeWidth":1.1,"opacity":1},
"encoding":{"x":{"field":"lo","type":"quantitative","title":"100% - Specificity%","scale":{"domain":[0,100]}},"y":{"field":"lo","type":"quantitative","title":"Sensitivity%","scale":{"domain":[0,100]}},"x2":{"field":"hi"},"y2":{"field":"hi"}}}
]},
{"width":142,"height":97,"title":{"text":"J","dx":-44,"dy":-2},
"layer":[
{"data":{"name":"pts"},"transform":[{"filter":"datum.p=='J'"}],"mark":{"type":"circle","size":10,"color":"#000","opacity":1},
"encoding":{"x":{"field":"x","type":"quantitative","title":null,"scale":{"domain":[-0.645,1.645]},"axis":{"values":[0,1],"tickCount":20,"labelFontSize":7.2,"labelExpr":"datum.value==0?'Absent(N0)':'Present (N1–N3)'"}},
"y":{"field":"y","type":"quantitative","title":"Relative expression of Wnt5a","scale":{"domain":[0.8,1.8]},"axis":{"values":[0.8,1,1.2,1.4,1.6,1.8],"tickCount":20,"format":".1f"}}}},
{"data":{"name":"sd"},"transform":[{"filter":"datum.p=='J'"}],"mark":{"type":"errorbar","ticks":true,"size":28,"thickness":1.5,"color":"#222"},
"encoding":{"x":{"field":"x","type":"quantitative","title":null,"scale":{"domain":[-0.645,1.645]}},"y":{"field":"lo","type":"quantitative","title":"Relative expression of Wnt5a","scale":{"domain":[0.8,1.8]}},"y2":{"field":"hi"}}},
{"data":{"name":"sd"},"transform":[{"filter":"datum.p=='J'"}],"mark":{"type":"tick","orient":"horizontal","size":46,"thickness":1.5,"color":"#222"},
"encoding":{"x":{"field":"x","type":"quantitative","title":null,"scale":{"domain":[-0.645,1.645]}},"y":{"field":"m","type":"quantitative","title":"Relative expression of Wnt5a","scale":{"domain":[0.8,1.8]}}}},
{"data":{"name":"sig"},"transform":[{"filter":"datum.p=='J'"}],"mark":{"type":"errorbar","ticks":true,"size":8,"thickness":1.5,"color":"#222"},
"encoding":{"x":{"field":"x1","type":"quantitative","title":null,"scale":{"domain":[-0.645,1.645]}},"x2":{"field":"x2"},"y":{"field":"y","type":"quantitative","title":"Relative expression of Wnt5a","scale":{"domain":[0.8,1.8]}}}},
{"data":{"name":"sig"},"transform":[{"filter":"datum.p=='J'"}],"mark":{"type":"text","fontSize":8,"fontWeight":"bold","baseline":"alphabetic","dy":-1,"color":"#222"},
"encoding":{"x":{"field":"xm","type":"quantitative","title":null,"scale":{"domain":[-0.645,1.645]}},"y":{"field":"y","type":"quantitative","title":"Relative expression of Wnt5a","scale":{"domain":[0.8,1.8]}},"text":{"field":"t"}}}
]},
{"width":97,"height":97,
"layer":[
{"data":{"name":"roc"},"transform":[{"filter":"datum.p=='J'"}],"mark":{"type":"line","color":"#333","strokeWidth":1.3},
"encoding":{"x":{"field":"x","type":"quantitative","title":"100% - Specificity%","scale":{"domain":[0,100]},"axis":{"values":[0,20,40,60,80,100],"tickCount":20,"titlePadding":8}},"y":{"field":"y","type":"quantitative","title":"Sensitivity%","scale":{"domain":[0,100]},"axis":{"values":[0,20,40,60,80,100],"tickCount":20}},"order":[{"field":"x","type":"quantitative"},{"field":"y","type":"quantitative"}]}},
{"data":{"name":"ref45"},"mark":{"type":"rule","stroke":"#e8403a","strokeWidth":1.1,"opacity":1},
"encoding":{"x":{"field":"lo","type":"quantitative","title":"100% - Specificity%","scale":{"domain":[0,100]}},"y":{"field":"lo","type":"quantitative","title":"Sensitivity%","scale":{"domain":[0,100]}},"x2":{"field":"hi"},"y2":{"field":"hi"}}}
]}
],
"config":{
"view":{"stroke":null},
"font":"Liberation Sans",
"axis":{"grid":false,"domainColor":"#111","domainWidth":1.3,"tickColor":"#111","tickWidth":1.2,"tickSize":4,"labelColor":"#111","titleColor":"#111","labelFont":"Liberation Sans","titleFont":"Liberation Sans","labelFontSize":8,"labelFontWeight":"bold","titleFontSize":8,"titleFontWeight":"bold","labelPadding":2,"titlePadding":4,"labelFlush":false,"labelOverlap":false},
"title":{"font":"Liberation Sans","fontSize":21,"fontWeight":"bold","color":"#000","anchor":"start","frame":"group","offset":0}
}
}
